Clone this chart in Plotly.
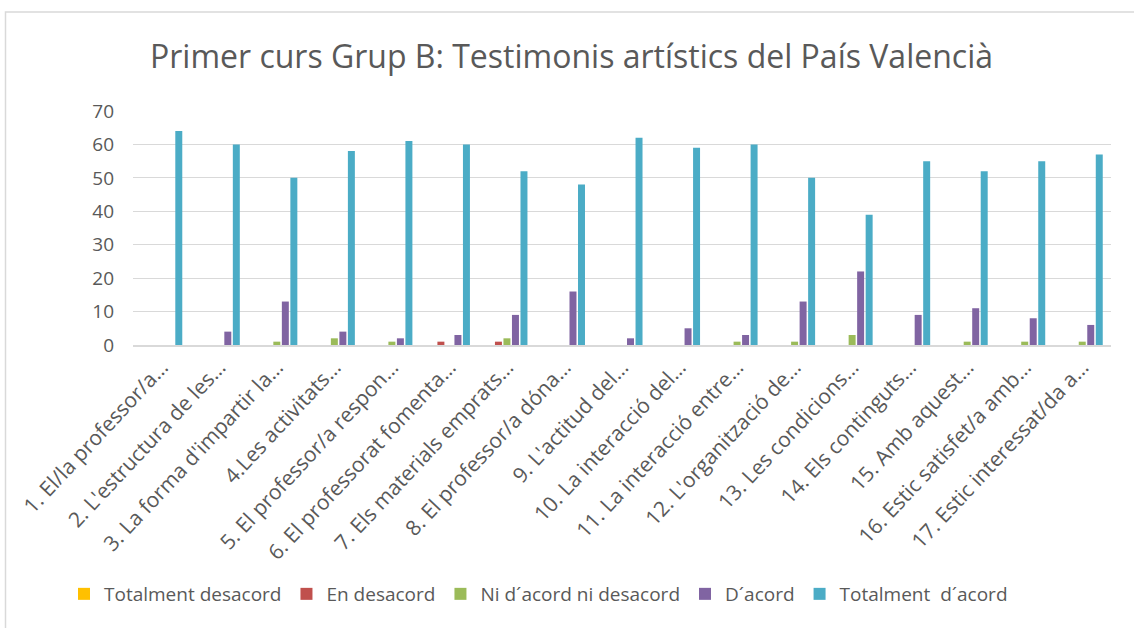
import plotly.graph_objects as go

categories = [
    "1. El/la professor/a…", "2. L'estructura de les…", "3. La forma d'impartir la…",
    "4.Les activitats…", "5. El professor/a respon…", "6. El professorat fomenta…",
    "7. Els materials emprats…", "8. El professor/a dóna…", "9. L'actitud del…",
    "10. La interacció del…", "11. La interacció entre…", "12. L'organització de…",
    "13. Les condicions…", "14. Els continguts…", "15. Amb aquest…",
    "16. Estic satisfet/a amb…", "17. Estic interessat/da a…",
]
series_names = ["Totalment desacord", "En desacord", "Ni d´acord ni desacord", "D´acord", "Totalment  d´acord"]
totalment_desacord = [0] * 17
en_desacord = [0, 0, 0, 0, 0, 1, 1, 0, 0, 0, 0, 0, 0, 0, 0, 0, 0]
ni_acord = [0, 0, 1, 2, 1, 0, 2, 0, 0, 0, 1, 1, 3, 0, 1, 1, 1]
acord = [0, 4, 13, 4, 2, 3, 9, 16, 2, 5, 3, 13, 22, 9, 11, 8, 6]
totalment_acord = [64, 60, 50, 58, 61, 60, 52, 48, 62, 59, 60, 50, 39, 55, 52, 55, 57]
colors = ["#FFC000", "#C0504D", "#9BBB59", "#8064A2", "#4BACC6"]

values = [totalment_desacord, en_desacord, ni_acord, acord, totalment_acord]

FONT = "Open Sans"
fig = go.Figure()
for name, vals, col in zip(series_names, values, colors):
    fig.add_trace(go.Bar(x=categories, y=vals, name=name,
                         marker=dict(color=col, line=dict(width=0))))

L, R, T, B = 133, 1111, 111, 345
fig.update_layout(
    width=1134, height=628,
    paper_bgcolor="white", plot_bgcolor="white",
    margin=dict(l=L, r=1134 - R, t=T, b=628 - B, autoexpand=False),
    barmode="group", bargap=0.26, bargroupgap=0.18,
    title=dict(text="Primer curs Grup B: Testimonis artístics del País Valencià",
               x=571.5 / 1134, xref="container", xanchor="center",
               y=1 - 57 / 628, yref="container", yanchor="middle",
               font=dict(family=FONT, size=32, color="#595959")),
    font=dict(family=FONT, color="#595959"),
    legend=dict(orientation="h", x=64 / 1134, xref="container", xanchor="left",
                y=1 - 594 / 628, yref="container", yanchor="middle",
                font=dict(family=FONT, size=19, color="#595959"),
                itemwidth=30, traceorder="normal"),
    xaxis=dict(tickangle=-47, tickfont=dict(family=FONT, size=21, color="#595959"),
               showgrid=False, showline=True, linecolor="#d9d9d9", linewidth=1.5,
               ticks="", automargin=False),
    yaxis=dict(range=[0, 70], dtick=10, tickfont=dict(family=FONT, size=19, color="#595959"),
               showgrid=True, gridcolor="#d9d9d9", gridwidth=1.3, zeroline=False,
               showline=False, ticks="", ticklabelstandoff=18, automargin=False),
    shapes=[dict(type="rect", xref="paper", yref="paper",
                 x0=(5.5 - L) / (R - L), x1=(1160 - L) / (R - L),
                 y0=(B - 660) / (B - T), y1=(B - 12) / (B - T),
                 line=dict(color="#d9d9d9", width=1.5), fillcolor="rgba(0,0,0,0)",
                 layer="below")],
)

fig.write_html("out.html", config={"displayModeBar": False},
               post_script="document.body.style.margin='0';")
